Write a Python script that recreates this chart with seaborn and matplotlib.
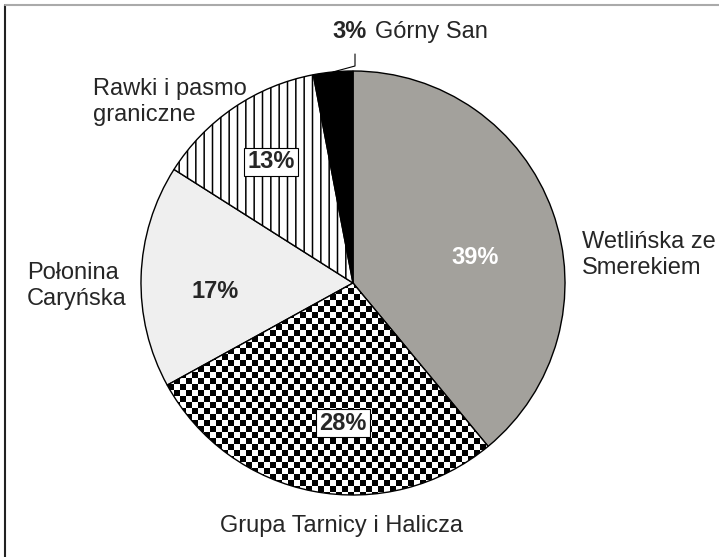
import numpy as np
import matplotlib
matplotlib.use('Agg')
from matplotlib import pyplot as plt
import seaborn as sns

# pasma Bieszczad - udział procentowy
regions = ['Wetlińska ze\nSmerekiem', 'Grupa Tarnicy i Halicza', 'Połonina\nCaryńska',
           'Rawki i pasmo\ngraniczne', 'Górny San']
shares = [39, 28, 17, 13, 3]
pct_labels = ['39%', '28%', '17%', '13%', '3%']

sns.set_style('white')
plt.rcParams['font.family'] = ['Liberation Sans', 'DejaVu Sans']
plt.rcParams['hatch.linewidth'] = 1.1

W, H = 719, 557
fig = plt.figure(figsize=(W / 100, H / 100), dpi=100)
ax = fig.add_axes([0, 0, 1, 1])

cx, cy, r = 353, 283, 212
wedges, _ = ax.pie(shares, startangle=-90, counterclock=True, center=(cx, cy), radius=r,
                   colors=['#a3a19c', 'black', '#efefef', 'white', 'black'],
                   wedgeprops=dict(edgecolor='black', linewidth=1.0))
ax.set_xlim(0, W)
ax.set_ylim(H, 0)
ax.set_aspect('equal')
ax.axis('off')

# kratka (szachownica) dla Grupy Tarnicy
yy, xx = np.mgrid[0:H, 0:W]
checker = ((xx // 6 + yy // 6) % 2).astype(float)
img = ax.imshow(checker, cmap='gray', extent=(0, W, H, 0), interpolation='nearest', zorder=1.5)
img.set_clip_path(wedges[1])
wedges[1].set_facecolor('none')
wedges[1].set_zorder(2)

# paski pionowe dla Rawek
wedges[3].set_hatch('||')

fs = 17
# opisy pasm
ax.text(582, 255, regions[0], fontsize=fs, ha='left', va='center', linespacing=1.25)
ax.text(342, 526, regions[1], fontsize=fs, ha='center', va='center')
ax.text(27, 286, regions[2], fontsize=fs, ha='left', va='center', linespacing=1.25)
ax.text(93, 102, regions[3], fontsize=fs, ha='left', va='center', linespacing=1.25)

# procenty
ax.text(475, 257, pct_labels[0], fontsize=fs, fontweight='bold', color='white',
        ha='center', va='center')
ax.text(343, 423, pct_labels[1], fontsize=fs, fontweight='bold', ha='center', va='center',
        bbox=dict(boxstyle='square,pad=0.12', fc='white', ec='black', lw=0.8))
ax.text(215, 292, pct_labels[2], fontsize=fs, fontweight='bold', ha='center', va='center')
ax.text(271, 162, pct_labels[3], fontsize=fs, fontweight='bold', ha='center', va='center',
        bbox=dict(boxstyle='square,pad=0.12', fc='white', ec='black', lw=0.8))

# Górny San z linią odniesienia
ax.text(332, 32, pct_labels[4], fontsize=fs, fontweight='bold', ha='left', va='center')
ax.text(375, 32, regions[4], fontsize=fs, ha='left', va='center')
w = wedges[4]
mid = np.deg2rad((w.theta1 + w.theta2) / 2)
sx, sy = cx + r * np.cos(mid), cy + r * np.sin(mid)
ax.plot([sx, 355, 355], [sy, 66, 54], color='black', lw=0.8)

# ramka
ax.plot([5, 5], [5, H], color='#222222', lw=1.5)
ax.plot([5, W], [5, 5], color='#aaaaaa', lw=1.5)

fig.savefig('out.png', dpi=100)
